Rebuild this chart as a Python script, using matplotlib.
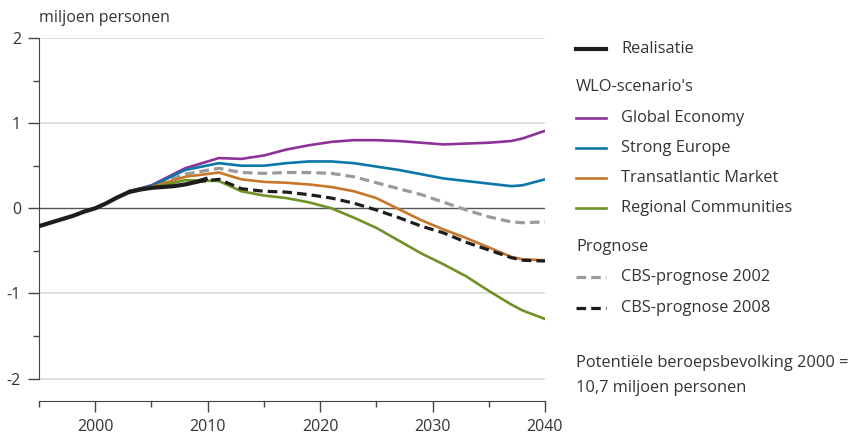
import numpy as np
import matplotlib.pyplot as plt
from matplotlib.lines import Line2D
from matplotlib.ticker import MultipleLocator

plt.rcParams['font.family'] = ['Open Sans', 'DejaVu Sans']

# realisatie
real_years = [1995, 1996, 1997, 1998, 1999, 2000, 2001, 2002, 2003, 2004,
              2005, 2006, 2007, 2008, 2009, 2010]
real_vals = [-0.21, -0.17, -0.13, -0.09, -0.04, 0.0, 0.06, 0.13, 0.19, 0.22,
             0.24, 0.25, 0.26, 0.28, 0.31, 0.35]

# scenario's and prognoses
scen_years = [2003, 2005, 2008, 2011, 2013, 2015, 2017, 2019, 2021, 2023,
              2025, 2027, 2029, 2031, 2033, 2035, 2037, 2038, 2040]
global_economy = [0.20, 0.27, 0.47, 0.59, 0.58, 0.62, 0.69, 0.74, 0.78, 0.80,
                  0.80, 0.79, 0.77, 0.75, 0.76, 0.77, 0.79, 0.82, 0.91]
strong_europe = [0.20, 0.26, 0.45, 0.53, 0.50, 0.50, 0.53, 0.55, 0.55, 0.53,
                 0.49, 0.45, 0.40, 0.35, 0.32, 0.29, 0.26, 0.27, 0.34]
transatlantic = [0.20, 0.25, 0.37, 0.42, 0.34, 0.31, 0.30, 0.28, 0.25, 0.20,
                 0.12, -0.01, -0.14, -0.25, -0.35, -0.46, -0.57, -0.60, -0.61]
regional = [0.20, 0.24, 0.33, 0.32, 0.20, 0.15, 0.12, 0.07, 0.0, -0.11,
            -0.23, -0.38, -0.53, -0.66, -0.80, -0.97, -1.13, -1.20, -1.30]
cbs2002 = [0.20, 0.25, 0.40, 0.47, 0.42, 0.41, 0.42, 0.42, 0.41, 0.37,
           0.30, 0.23, 0.16, 0.07, -0.02, -0.10, -0.16, -0.17, -0.16]

cbs2008_years = [2009, 2011, 2013, 2015, 2017, 2019, 2021, 2023, 2025, 2027,
                 2029, 2031, 2033, 2035, 2037, 2038, 2040]
cbs2008 = [0.31, 0.34, 0.23, 0.20, 0.19, 0.16, 0.12, 0.06, -0.02, -0.11,
           -0.21, -0.29, -0.40, -0.49, -0.58, -0.61, -0.62]

c_purple = '#8e3299'
c_blue = '#0b76a8'
c_orange = '#c7762a'
c_green = '#6f9226'
c_gray = '#9a9a9a'
c_black = '#1d1d1b'
c_text = '#333333'

fig = plt.figure(figsize=(8.61, 4.36), dpi=100)
ax = fig.add_axes([39 / 861, 35.3 / 436, (545 - 39) / 861, (400.7 - 38) / 436])

ax.set_xlim(1995, 2040)
ax.set_ylim(-2.26, 2)

for v in [-2, -1, 1, 2]:
    ax.axhline(v, color='#dddddd', lw=1.3, zorder=0)
ax.axhline(0, color='#555555', lw=1.0, zorder=1)

ax.plot(scen_years, cbs2002, color=c_gray, lw=2.3, dashes=(3, 1.6), zorder=2)
ax.plot(scen_years, global_economy, color=c_purple, lw=1.9, zorder=3)
ax.plot(scen_years, strong_europe, color=c_blue, lw=1.9, zorder=3)
ax.plot(scen_years, transatlantic, color=c_orange, lw=1.9, zorder=3)
ax.plot(scen_years, regional, color=c_green, lw=1.9, zorder=3)
ax.plot(cbs2008_years, cbs2008, color=c_black, lw=2.3, dashes=(3, 1.6), zorder=4)
ax.plot(real_years, real_vals, color=c_black, lw=3.0, solid_capstyle='butt', zorder=5)

for s in ['top', 'right']:
    ax.spines[s].set_visible(False)
ax.spines['left'].set_bounds(-2, 2)
ax.spines['left'].set_color('#444444')
ax.spines['bottom'].set_color('#444444')

ax.set_yticks([-2, -1, 0, 1, 2])
ax.set_yticklabels(['-2', '-1', '0', '1', '2'])
ax.yaxis.set_minor_locator(MultipleLocator(0.5))
ax.set_xticks([2000, 2010, 2020, 2030, 2040])
ax.xaxis.set_minor_locator(MultipleLocator(5))
ax.tick_params(axis='both', which='major', length=8, width=1, color='#444444',
               labelsize=11.5, labelcolor=c_text)
ax.tick_params(axis='both', which='minor', length=4, width=1, color='#444444')
ax.tick_params(axis='x', which='major', pad=5)
ax.tick_params(axis='y', which='major', pad=5)

fig.text(39 / 861, 1 - 18 / 436, 'miljoen personen', fontsize=11.5, color=c_text,
         ha='left', va='center')

# legenda
def ypos(py):
    return 1 - py / 436

x0, x1, xt = 576 / 861, 606 / 861, 621 / 861
rows = [
    (49, 'Realisatie', dict(color=c_black, lw=3.0)),
    (118, 'Global Economy', dict(color=c_purple, lw=1.9)),
    (148, 'Strong Europe', dict(color=c_blue, lw=1.9)),
    (178, 'Transatlantic Market', dict(color=c_orange, lw=1.9)),
    (208, 'Regional Communities', dict(color=c_green, lw=1.9)),
    (277, 'CBS-prognose 2002', dict(color=c_gray, lw=2.3, dashes=(3, 1.6))),
    (308, 'CBS-prognose 2008', dict(color=c_black, lw=2.3, dashes=(3, 1.6))),
]
for py, label, style in rows:
    fig.add_artist(Line2D([x0, x1], [ypos(py), ypos(py)], transform=fig.transFigure, **style))
    fig.text(xt, ypos(py), label, fontsize=11.8, color=c_text, ha='left', va='center')

for py, label in [(87, "WLO-scenario's"), (247, 'Prognose'),
                  (363, 'Potentiële beroepsbevolking 2000 ='), (388, '10,7 miljoen personen')]:
    fig.text(x0, ypos(py), label, fontsize=11.8, color=c_text, ha='left', va='center')

fig.savefig('out.png', dpi=100)
